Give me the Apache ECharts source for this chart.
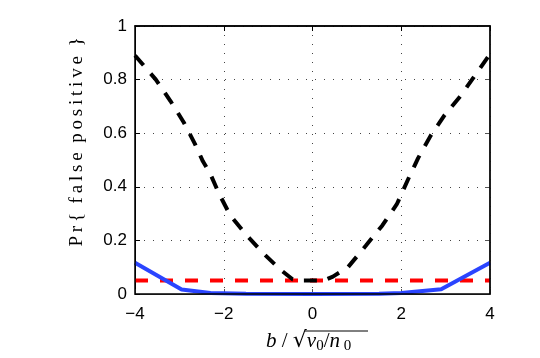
<!DOCTYPE html>
<html>
<head>
<meta charset="utf-8">
<script src="https://cdn.jsdelivr.net/npm/echarts@6/dist/echarts.min.js"></script>
<style>
  html, body { margin: 0; padding: 0; background: #fff; }
  #chart { width: 540px; height: 358px; }
</style>
</head>
<body>
<div id="chart"></div>
<script>
// x ticks / y ticks
var xTicks = [-4, -2, 0, 2, 4];
var yTicks = [0, 0.2, 0.4, 0.6, 0.8, 1];

// black dashed curve
var blackX = [-4, -3.53, -3.2, -2.9, -2.65, -2.47, -2.31, -2.12, -1.86, -1.51, -1.13, -0.71, -0.45, -0.3,
              0.25, 0.46, 0.8, 1.2, 1.57, 1.9, 2.16, 2.38, 2.66, 2.98, 3.35, 3.68, 4];
var blackY = [0.89, 0.80, 0.72, 0.64, 0.56, 0.495, 0.451, 0.379, 0.295, 0.224, 0.155, 0.089, 0.055, 0.05,
              0.05, 0.065, 0.10, 0.18, 0.255, 0.335, 0.43, 0.507, 0.59, 0.668, 0.742, 0.82, 0.895];

// red dashed level
var redX = [-4, 4];
var redY = [0.05, 0.05];

// blue solid curve
var blueX = [-4, -2.95, -2.3, -1.5, 0, 1.5, 2.0, 2.9, 4];
var blueY = [0.117, 0.017, 0.004, 0.001, 0, 0.001, 0.004, 0.018, 0.117];

function pairs(xs, ys) {
	var out = [];
	for (var i = 0; i < xs.length; i++) out.push([xs[i], ys[i]]);
	return out;
}

function spaced(s) {
	return s.split('').join('\u2009');
}

var tickFont = { color: '#000', fontFamily: 'Liberation Sans', fontSize: 17 };

var myChart = echarts.init(document.getElementById('chart'));
myChart.setOption({
	animation: false,
	backgroundColor: '#fff',
	grid: { left: 135, right: 50, top: 26, bottom: 64, show: true, borderColor: '#000', borderWidth: 1.5, z: 5 },
	xAxis: [
		{
			type: 'value', min: -4, max: 4, interval: 2, position: 'bottom',
			axisLine: { onZero: false, lineStyle: { color: '#555', width: 1 } },
			axisTick: { inside: true, length: 5, lineStyle: { color: '#555' } },
			axisLabel: Object.assign({ margin: 12, formatter: function (v) { return String(v).replace('-', '\u2212'); } }, tickFont),
			splitLine: { show: true, lineStyle: { color: '#444', type: [1, 8], width: 1 } }
		},
		{
			type: 'value', min: -4, max: 4, interval: 2, position: 'top',
			axisLine: { show: true, onZero: false, lineStyle: { color: '#000', width: 1.5 } },
			axisTick: { show: true, inside: true, length: 5, lineStyle: { color: '#000' } },
			axisLabel: { show: false },
			splitLine: { show: false }
		}
	],
	yAxis: [
		{
			type: 'value', min: 0, max: 1, interval: 0.2, position: 'left',
			axisLine: { show: true, onZero: false, lineStyle: { color: '#000', width: 1 } },
			axisTick: { show: true, inside: true, length: 5, lineStyle: { color: '#000' } },
			axisLabel: Object.assign({ margin: 8 }, tickFont),
			splitLine: { show: true, lineStyle: { color: '#444', type: [1, 8], width: 1 } }
		},
		{
			type: 'value', min: 0, max: 1, interval: 0.2, position: 'right',
			axisLine: { show: true, onZero: false, lineStyle: { color: '#555', width: 1.5 } },
			axisTick: { show: true, inside: true, length: 5, lineStyle: { color: '#555' } },
			axisLabel: { show: false },
			splitLine: { show: false }
		}
	],
	series: [
		{
			type: 'line', data: pairs(redX, redY), symbol: 'none',
			lineStyle: { color: '#ff0000', width: 4, type: [13, 12], cap: 'butt' }
		},
		{
			type: 'line', data: pairs(blueX, blueY), symbol: 'none',
			lineStyle: { color: '#2a44ff', width: 4 }
		},
		{
			type: 'line', data: pairs(blackX, blackY), symbol: 'none',
			lineStyle: { color: '#000', width: 4, type: [13, 11], cap: 'butt' }
		}
	],
	graphic: [
		{
			type: 'text', x: 77, y: 142, rotation: Math.PI / 2,
			style: {
				text: spaced('Pr{') + '  ' + spaced('false') + '  ' + spaced('positive') + '  }',
				font: '19px "Liberation Serif"', fill: '#000',
				align: 'center', verticalAlign: 'middle'
			}
		},
		{
			type: 'text', x: 266, y: 341,
			style: {
				text: '{i|b}{r| / }{q|\u221A}{i|v}{s|0}{r|/}{i|n}{s| 0}',
				verticalAlign: 'middle',
				rich: {
					i: { fontFamily: 'Liberation Serif', fontStyle: 'italic', fontSize: 21, fill: '#000' },
					r: { fontFamily: 'Liberation Serif', fontSize: 21, fill: '#000' },
					q: { fontFamily: 'DejaVu Serif', fontSize: 22, fill: '#000' },
					s: { fontFamily: 'Liberation Serif', fontSize: 15, fill: '#000', padding: [10, 0, 0, 0] }
				}
			}
		},
		{
			type: 'line', shape: { x1: 305, y1: 331, x2: 368, y2: 331 },
			style: { stroke: '#000', lineWidth: 1 }
		}
	]
});
</script>
</body>
</html>
